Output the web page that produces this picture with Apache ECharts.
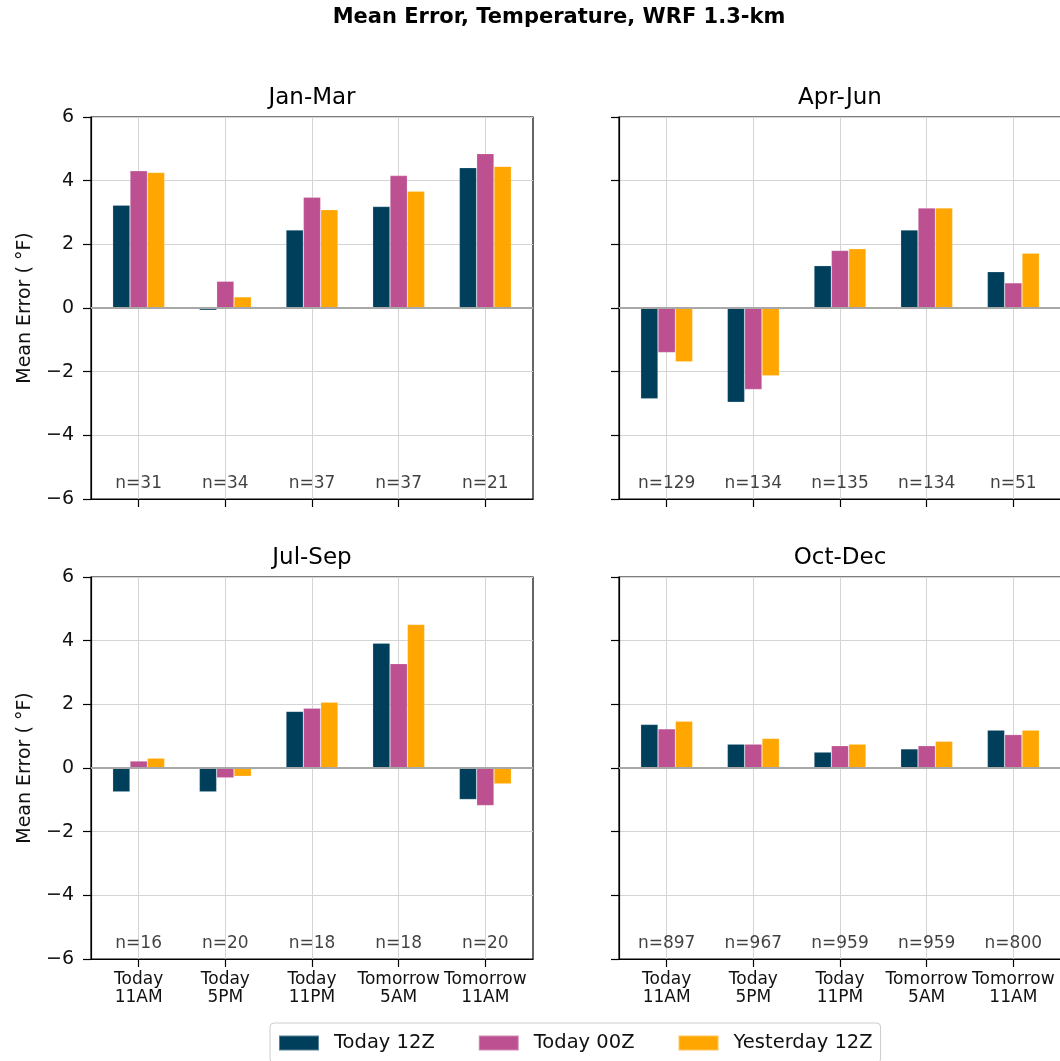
<!DOCTYPE html>
<html>
<head>
<meta charset="utf-8">
<title>Mean Error, Temperature, WRF 1.3-km</title>
<script src="https://cdn.jsdelivr.net/npm/echarts@6/dist/echarts.min.js"></script>
<style>
  html, body { margin: 0; padding: 0; background: #fff; }
  #chart { width: 1060px; height: 1061px; }
</style>
</head>
<body>
<div id="chart"></div>
<script>
// Forecast lead times (x categories) and run names
const categories = ['Today\n11AM', 'Today\n5PM', 'Today\n11PM', 'Tomorrow\n5AM', 'Tomorrow\n11AM'];
const runNames = ['Today 12Z', 'Today 00Z', 'Yesterday 12Z'];
const runColors = ['#003f5c', '#bc5090', '#ffa600'];
const panelTitles = ['Jan-Mar', 'Apr-Jun', 'Jul-Sep', 'Oct-Dec'];
const yTicks = [-6, -4, -2, 0, 2, 4, 6];

// Mean temperature error (°F) per season and run
const janMarToday12Z = [3.23, -0.07, 2.45, 3.19, 4.41];
const janMarToday00Z = [4.31, 0.84, 3.48, 4.16, 4.85];
const janMarYesterday12Z = [4.26, 0.35, 3.09, 3.67, 4.45];

const aprJunToday12Z = [-2.85, -2.96, 1.33, 2.45, 1.14];
const aprJunToday00Z = [-1.40, -2.56, 1.81, 3.14, 0.79];
const aprJunYesterday12Z = [-1.69, -2.13, 1.86, 3.14, 1.72];

const julSepToday12Z = [-0.75, -0.75, 1.78, 3.92, -0.99];
const julSepToday00Z = [0.22, -0.31, 1.88, 3.28, -1.18];
const julSepYesterday12Z = [0.31, -0.26, 2.07, 4.51, -0.50];

const octDecToday12Z = [1.37, 0.75, 0.50, 0.60, 1.19];
const octDecToday00Z = [1.23, 0.75, 0.70, 0.70, 1.05];
const octDecYesterday12Z = [1.47, 0.93, 0.75, 0.84, 1.19];

// Sample sizes per lead time
const janMarCounts = [31, 34, 37, 37, 21];
const aprJunCounts = [129, 134, 135, 134, 51];
const julSepCounts = [16, 20, 18, 18, 20];
const octDecCounts = [897, 967, 959, 959, 800];

const panelValues = [
  [janMarToday12Z, janMarToday00Z, janMarYesterday12Z],
  [aprJunToday12Z, aprJunToday00Z, aprJunYesterday12Z],
  [julSepToday12Z, julSepToday00Z, julSepYesterday12Z],
  [octDecToday12Z, octDecToday00Z, octDecYesterday12Z]
];
const panelCounts = [janMarCounts, aprJunCounts, julSepCounts, octDecCounts];

const FONT = 'DejaVu Sans, sans-serif';
const gridBoxes = [
  { left: 91, top: 117, width: 442, height: 382 },
  { left: 619, top: 117, width: 442, height: 382 },
  { left: 91, top: 577, width: 442, height: 382 },
  { left: 619, top: 577, width: 442, height: 382 }
];
const countLabelY = -5.5;
const fmtMinus = v => (v < 0 ? '\u2212' + Math.abs(v) : String(v));

const grids = [], xAxes = [], yAxes = [], series = [], graphics = [];

gridBoxes.forEach((box, p) => {
  const isLeft = p % 2 === 0;
  const isBottom = p >= 2;
  grids.push(Object.assign({
    show: true, borderColor: '#000', borderWidth: 1.2, backgroundColor: 'transparent',
    containLabel: false, outerBoundsMode: 'none'
  }, box));

  xAxes.push({
    type: 'value', gridIndex: p, min: -0.55, max: 4.55,
    axisLine: { show: true, onZero: false, lineStyle: { color: '#000', width: 1.2 } },
    axisTick: { show: true, length: 8, customValues: [0, 1, 2, 3, 4], lineStyle: { color: '#000', width: 1.2 } },
    axisLabel: {
      show: isBottom, customValues: [0, 1, 2, 3, 4], margin: 12,
      formatter: v => categories[Math.round(v)] || '',
      fontFamily: FONT, fontSize: 17, lineHeight: 18, color: '#111'
    },
    splitLine: { show: true, lineStyle: { color: '#d4d4d4', width: 1 } }
  });

  yAxes.push({
    type: 'value', gridIndex: p, min: -6, max: 6, interval: 2,
    axisLine: { show: true, onZero: false, lineStyle: { color: '#000', width: 1.2 } },
    axisTick: { show: true, length: 8, lineStyle: { color: '#000', width: 1.2 } },
    axisLabel: { show: isLeft, margin: 17, formatter: fmtMinus, fontFamily: FONT, fontSize: 19, color: '#111' },
    splitLine: { show: true, lineStyle: { color: '#d4d4d4', width: 1 } },
    name: isLeft ? 'Mean Error ( \u00b0F)' : '',
    nameLocation: 'middle', nameGap: 56,
    nameTextStyle: { fontFamily: FONT, fontSize: 19, color: '#111' }
  });

  runNames.forEach((name, s) => {
    const ser = {
      type: 'bar', name, xAxisIndex: p, yAxisIndex: p,
      data: panelValues[p][s].map((v, i) => [i, v]),
      barWidth: '20%', barGap: '0%',
      itemStyle: { color: runColors[s], borderColor: 'rgba(255,255,255,0.35)', borderWidth: 0.6 },
      silent: true
    };
    if (s === 0) {
      ser.markLine = {
        silent: true, symbol: 'none', label: { show: false },
        lineStyle: { color: '#a8a8a8', width: 1.8, type: 'solid' },
        data: [{ yAxis: 0 }]
      };
    }
    series.push(ser);
  });

  series.push({
    type: 'scatter', xAxisIndex: p, yAxisIndex: p, silent: true,
    symbolSize: 1, itemStyle: { color: 'rgba(0,0,0,0)' },
    data: panelCounts[p].map((n, i) => [i, countLabelY, n]),
    label: {
      show: true, position: 'inside', formatter: prm => 'n=' + prm.data[2],
      fontFamily: FONT, fontSize: 17, color: '#111'
    }
  });

  graphics.push({
    type: 'text', x: box.left + 221, y: box.top - 19,
    style: { text: panelTitles[p], fontFamily: FONT, fontSize: 23, fill: '#000', textAlign: 'center', textVerticalAlign: 'middle' }
  });
});

graphics.push({
  type: 'text', x: 559, y: 18,
  style: { text: 'Mean Error, Temperature, WRF 1.3-km', fontFamily: FONT, fontSize: 21, fontWeight: 'bold', fill: '#000', textAlign: 'center', textVerticalAlign: 'middle' }
});

const chart = echarts.init(document.getElementById('chart'), null, { renderer: 'canvas' });
chart.setOption({
  animation: false,
  backgroundColor: '#fff',
  grid: grids,
  xAxis: xAxes,
  yAxis: yAxes,
  series,
  graphic: graphics,
  legend: {
    data: runNames,
    left: 270, top: 1023,
    orient: 'horizontal',
    icon: 'rect', itemWidth: 40, itemHeight: 15, itemGap: 43,
    padding: [10, 8, 10, 8],
    backgroundColor: '#fff', borderColor: '#cccccc', borderWidth: 1, borderRadius: 4,
    textStyle: { fontFamily: FONT, fontSize: 19.5, color: '#111', padding: [0, 0, 0, 10] },
    selectedMode: false
  }
});
</script>
</body>
</html>
